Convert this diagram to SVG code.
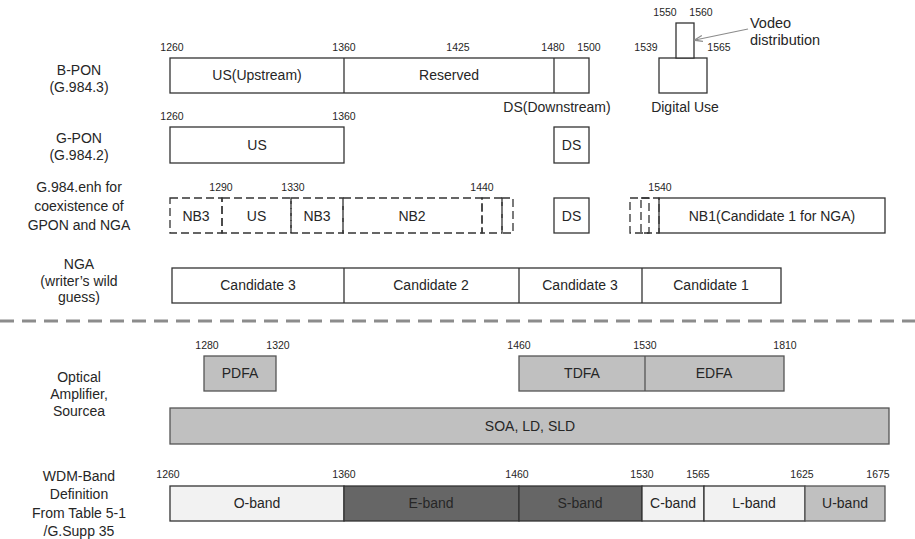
<svg xmlns="http://www.w3.org/2000/svg" width="915" height="539" viewBox="0 0 915 539">
  <defs>
    <style>
      text { font-family: "Liberation Sans", Arial, sans-serif; fill: #262626; }
      .row { font-size: 14px; text-anchor: middle; }
      .lbl { font-size: 14px; text-anchor: middle; }
      .num { font-size: 10.5px; text-anchor: middle; }
      .box { fill: #ffffff; stroke: #333333; stroke-width: 1.3; }
      .dash { fill: none; stroke: #333333; stroke-width: 1.3; stroke-dasharray: 8 4; }
      .amp { fill: #c0c0c0; stroke: #555555; stroke-width: 1.3; }
      .light { fill: #f2f2f2; stroke: #333333; stroke-width: 1.3; }
      .dark { fill: #666666; stroke: #333333; stroke-width: 1.3; }
      .sep { stroke: #8c8c8c; stroke-width: 3; stroke-dasharray: 14 8; }
    </style>
    <marker id="arrow" viewBox="0 0 10 10" refX="9" refY="5" markerWidth="7" markerHeight="7" orient="auto">
      <path d="M0,1.5 L10,5 L0,8.5" fill="none" stroke="#8c8c8c" stroke-width="1.5"/>
    </marker>
  </defs>

  <rect width="915" height="539" fill="#ffffff"/>

  <!-- Row labels -->
  <g id="row-labels" class="row">
    <text x="79" y="75">B-PON</text>
    <text x="79" y="92">(G.984.3)</text>
    <text x="79" y="143">G-PON</text>
    <text x="79" y="160">(G.984.2)</text>
    <text x="79" y="192">G.984.enh for</text>
    <text x="79" y="211">coexistence of</text>
    <text x="79" y="230">GPON and NGA</text>
    <text x="79" y="269">NGA</text>
    <text x="79" y="286">(writer’s wild</text>
    <text x="79" y="302">guess)</text>
    <text x="79" y="382">Optical</text>
    <text x="79" y="399">Amplifier,</text>
    <text x="79" y="416">Sourcea</text>
    <text x="79" y="481">WDM-Band</text>
    <text x="79" y="499">Definition</text>
    <text x="79" y="518">From Table 5-1</text>
    <text x="79" y="536">/G.Supp 35</text>
  </g>

  <!-- B-PON (G.984.3) -->
  <g id="bpon">
    <rect class="box" x="170" y="58" width="419" height="35"/>
    <line x1="344" y1="58" x2="344" y2="93" stroke="#333" stroke-width="1.3"/>
    <line x1="554" y1="58" x2="554" y2="93" stroke="#333" stroke-width="1.3"/>
    <text class="lbl" x="257" y="80">US(Upstream)</text>
    <text class="lbl" x="449" y="80">Reserved</text>
    <text class="lbl" x="557" y="112">DS(Downstream)</text>
    <text class="num" x="172" y="51">1260</text>
    <text class="num" x="344" y="51">1360</text>
    <text class="num" x="458" y="51">1425</text>
    <text class="num" x="553" y="51">1480</text>
    <text class="num" x="589" y="51">1500</text>
  </g>

  <!-- Digital use / video overlay -->
  <g id="digital-use">
    <rect class="box" x="659" y="58" width="48" height="35"/>
    <rect class="box" x="676" y="23" width="18" height="35"/>
    <text class="lbl" x="685" y="112">Digital Use</text>
    <text class="num" x="646" y="51">1539</text>
    <text class="num" x="719" y="51">1565</text>
    <text class="num" x="665" y="16">1550</text>
    <text class="num" x="701" y="16">1560</text>
  </g>
  <g id="video-note">
    <text x="750" y="28" font-size="14.5">Vodeo</text>
    <text x="750" y="45" font-size="14.5">distribution</text>
  </g>

  <!-- G-PON (G.984.2) -->
  <g id="gpon">
    <rect class="box" x="170" y="127" width="174" height="36"/>
    <text class="lbl" x="257" y="150">US</text>
    <rect class="box" x="554" y="127" width="35" height="36"/>
    <text class="lbl" x="571.5" y="150">DS</text>
    <text class="num" x="172" y="120">1260</text>
    <text class="num" x="344" y="120">1360</text>
  </g>

  <!-- G.984.enh coexistence plan -->
  <g id="enh">
    <rect class="dash" x="170" y="198" width="52" height="35"/>
    <rect class="dash" x="222" y="198" width="69" height="35"/>
    <rect class="dash" x="291" y="198" width="52" height="35"/>
    <rect class="dash" x="343" y="198" width="139" height="35"/>
    <rect class="dash" x="482" y="198" width="20" height="35"/>
    <rect class="dash" x="502" y="198" width="11" height="35"/>
    <text class="lbl" x="196" y="221">NB3</text>
    <text class="lbl" x="256.5" y="221">US</text>
    <text class="lbl" x="317" y="221">NB3</text>
    <text class="lbl" x="412" y="221">NB2</text>
    <rect class="box" x="554" y="198" width="35" height="35"/>
    <text class="lbl" x="571.5" y="221">DS</text>
    <rect class="box" x="659" y="198" width="226" height="35"/>
    <rect class="dash" x="630" y="198" width="19" height="35"/>
    <rect class="dash" x="641" y="198" width="18" height="35"/>
    <text class="lbl" x="772" y="221">NB1(Candidate 1 for NGA)</text>
    <text class="num" x="221" y="191">1290</text>
    <text class="num" x="293" y="191">1330</text>
    <text class="num" x="482" y="191">1440</text>
    <text class="num" x="660" y="191">1540</text>
  </g>

  <!-- NGA candidates -->
  <g id="nga">
    <rect class="box" x="172" y="268" width="609" height="35"/>
    <line x1="344" y1="268" x2="344" y2="303" stroke="#333" stroke-width="1.3"/>
    <line x1="519" y1="268" x2="519" y2="303" stroke="#333" stroke-width="1.3"/>
    <line x1="642" y1="268" x2="642" y2="303" stroke="#333" stroke-width="1.3"/>
    <text class="lbl" x="258" y="290">Candidate 3</text>
    <text class="lbl" x="431" y="290">Candidate 2</text>
    <text class="lbl" x="580" y="290">Candidate 3</text>
    <text class="lbl" x="711" y="290">Candidate 1</text>
  </g>

  <!-- Separator -->
  <line class="sep" x1="0" y1="321" x2="915" y2="321"/>

  <!-- Optical amplifiers and sources -->
  <g id="pdfa">
    <rect class="amp" x="204" y="356" width="72" height="35"/>
    <text class="lbl" x="240" y="378">PDFA</text>
    <text class="num" x="207" y="349">1280</text>
    <text class="num" x="278" y="349">1320</text>
  </g>
  <g id="tdfa-edfa">
    <rect class="amp" x="519" y="356" width="265" height="35"/>
    <line x1="645" y1="356" x2="645" y2="391" stroke="#555" stroke-width="1.3"/>
    <text class="lbl" x="582" y="378">TDFA</text>
    <text class="lbl" x="714" y="378">EDFA</text>
    <text class="num" x="519" y="349">1460</text>
    <text class="num" x="645" y="349">1530</text>
    <text class="num" x="785" y="349">1810</text>
  </g>
  <g id="soa">
    <rect class="amp" x="170" y="408" width="719" height="36"/>
    <text class="lbl" x="530" y="431">SOA, LD, SLD</text>
  </g>

  <!-- WDM band definition -->
  <g id="wdm">
    <rect class="light" x="170" y="486" width="174" height="35"/>
    <rect class="dark" x="344" y="486" width="175" height="35"/>
    <rect class="dark" x="519" y="486" width="123" height="35"/>
    <rect class="light" x="642" y="486" width="62" height="35"/>
    <rect class="light" x="704" y="486" width="101" height="35"/>
    <rect class="amp" x="805" y="486" width="80" height="35" stroke="#333"/>
    <text class="lbl" x="257" y="508">O-band</text>
    <text class="lbl" x="431" y="508">E-band</text>
    <text class="lbl" x="580" y="508">S-band</text>
    <text class="lbl" x="673" y="508">C-band</text>
    <text class="lbl" x="754" y="508">L-band</text>
    <text class="lbl" x="845" y="508">U-band</text>
    <text class="num" x="168" y="478">1260</text>
    <text class="num" x="344" y="478">1360</text>
    <text class="num" x="517" y="478">1460</text>
    <text class="num" x="642" y="478">1530</text>
    <text class="num" x="698" y="478">1565</text>
    <text class="num" x="802" y="478">1625</text>
    <text class="num" x="878" y="478">1675</text>
  </g>

  <!-- Connectors -->
  <g id="connectors">
    <line x1="748" y1="29" x2="695" y2="40" stroke="#8c8c8c" stroke-width="1.2" marker-end="url(#arrow)"/>
  </g>
</svg>
